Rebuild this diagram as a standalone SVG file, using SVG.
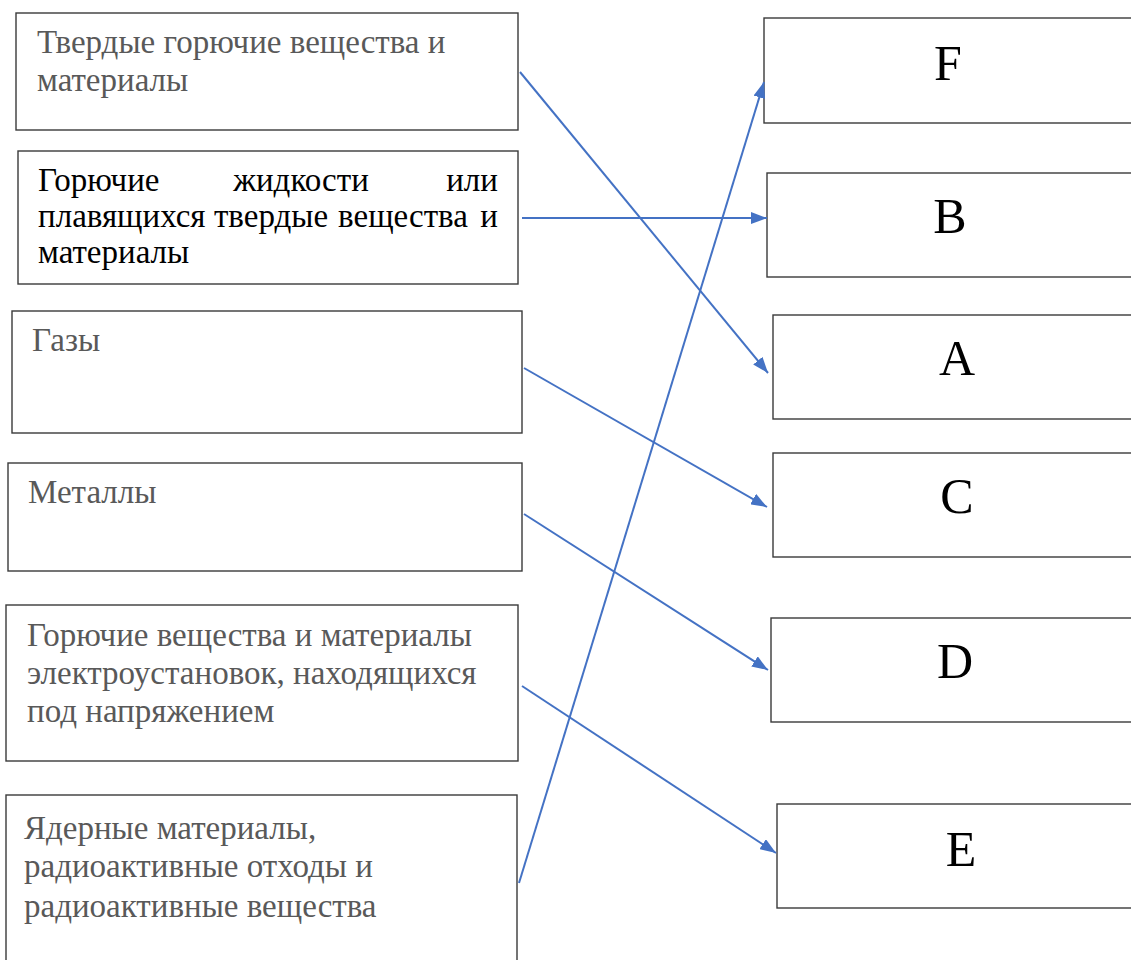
<svg xmlns="http://www.w3.org/2000/svg" width="1131" height="960" viewBox="0 0 1131 960">
<style>
.box{fill:#fff;stroke:#3a3a3a;stroke-width:1.4}
.t{font-family:"Liberation Serif","Times New Roman",serif;font-size:33px;fill:#595959}
.tb{font-family:"Liberation Serif","Times New Roman",serif;font-size:33px;fill:#000}
.L{font-family:"Liberation Serif","Times New Roman",serif;font-size:50px;fill:#000;text-anchor:middle}
.c{stroke:#4472C4;stroke-width:2;fill:none;marker-end:url(#ah)}
</style>
<defs>
<marker id="ah" viewBox="0 0 16 12" refX="16" refY="6" markerWidth="16" markerHeight="12" markerUnits="userSpaceOnUse" orient="auto">
<path d="M0,0 L16,6 L0,12 Z" fill="#4472C4"/>
</marker>
</defs>
<rect width="1131" height="960" fill="#fff"/>
<g id="n1"><rect class="box" x="16" y="13" width="502" height="117"/>
<text class="t" x="37" y="53">Твердые горючие вещества и</text>
<text class="t" x="37" y="91">материалы</text></g>
<g id="n2"><rect class="box" x="18" y="151" width="500" height="133"/>
<text class="tb" x="38" y="191">Горючие</text>
<text class="tb" x="301" y="191" text-anchor="middle">жидкости</text>
<text class="tb" x="498" y="191" text-anchor="end">или</text>
<text class="tb" x="38" y="227">плавящихся</text>
<text class="tb" x="271" y="227" text-anchor="middle">твердые</text>
<text class="tb" x="403" y="227" text-anchor="middle">вещества</text>
<text class="tb" x="498" y="227" text-anchor="end">и</text>
<text class="tb" x="38" y="263">материалы</text></g>
<g id="n3"><rect class="box" x="12" y="311" width="510" height="122"/>
<text class="t" x="32" y="351">Газы</text></g>
<g id="n4"><rect class="box" x="8" y="463" width="514" height="108"/>
<text class="t" x="28" y="503">Металлы</text></g>
<g id="n5"><rect class="box" x="6" y="605" width="512" height="156"/>
<text class="t" x="27" y="646">Горючие вещества и материалы</text>
<text class="t" x="27" y="684">электроустановок, находящихся</text>
<text class="t" x="27" y="722">под напряжением</text></g>
<g id="n6"><rect class="box" x="6" y="795" width="511" height="175"/>
<text class="t" x="24" y="839">Ядерные материалы,</text>
<text class="t" x="24" y="877">радиоактивные отходы и</text>
<text class="t" x="24" y="917">радиоактивные вещества</text></g>
<g id="nF"><rect class="box" x="764" y="18" width="380" height="105"/><text class="L" x="948" y="80">F</text></g>
<g id="nB"><rect class="box" x="767" y="173" width="380" height="104"/><text class="L" x="950" y="233">B</text></g>
<g id="nA"><rect class="box" x="773" y="315" width="380" height="104"/><text class="L" x="957" y="375">A</text></g>
<g id="nC"><rect class="box" x="773" y="453" width="380" height="104"/><text class="L" x="957" y="513">C</text></g>
<g id="nD"><rect class="box" x="771" y="618" width="380" height="104"/><text class="L" x="955" y="678">D</text></g>
<g id="nE"><rect class="box" x="777" y="804" width="380" height="104"/><text class="L" x="961" y="866">E</text></g>
<g id="connectors">
<line class="c" x1="520" y1="72" x2="768" y2="373"/>
<line class="c" x1="522" y1="218" x2="767" y2="218"/>
<line class="c" x1="524" y1="368" x2="767" y2="507"/>
<line class="c" x1="524" y1="514" x2="768" y2="670"/>
<line class="c" x1="522" y1="686" x2="776" y2="853"/>
<line class="c" x1="519" y1="883" x2="764" y2="82"/>
</g>
</svg>
